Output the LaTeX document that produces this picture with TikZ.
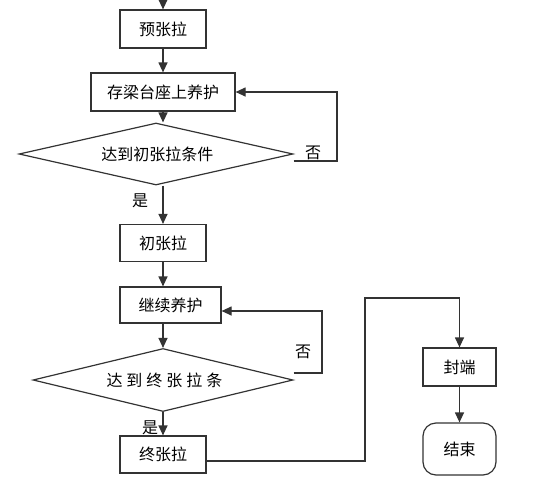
\documentclass[tikz,border=0pt]{standalone}
\usepackage{fontspec}
\newfontfamily\cjk{Noto Sans CJK SC}
\usetikzlibrary{shapes.geometric,arrows.meta,calc}
\begin{document}
\begin{tikzpicture}[x=1pt,y=-1pt,
  every node/.style={font=\cjk\fontsize{16}{18}\selectfont},
  stepbox/.style={draw=black!80,line width=1.2pt,inner sep=0pt,minimum height=38pt},
  cond/.style={draw=black!80,line width=1.2pt,diamond,inner sep=0pt,aspect=4.3},
  lbl/.style={inner sep=0pt},
  conn/.style={draw=black!80,line width=1.2pt},
  arr/.style={conn,-{Triangle[length=10pt,width=9pt]}}]
\useasboundingbox (0,0) rectangle (533,498);
\coordinate (top) at (163,0);
\node[stepbox,minimum width=86pt] (pre) at (163,29) {预张拉\hspace{8pt}};
\node[stepbox,minimum width=144pt] (cun) at (163,92) {存梁台座上养护};
\node[cond,minimum width=274pt,minimum height=62pt] (d1) at (156,154) {\,达到初张拉条件};
\node[stepbox,minimum width=86pt,minimum height=37pt] (chu) at (163,243) {初张拉\hspace{8pt}};
\node[stepbox,minimum width=101pt,minimum height=36pt] (jx) at (170.5,305) {继续养护\hspace{8pt}};
\node[cond,minimum width=260pt,minimum height=63pt] (d2) at (163,380) {\hspace{3pt}达\hspace{4pt}到\hspace{4pt}终\hspace{4pt}张\hspace{4pt}拉\hspace{4pt}条};
\node[stepbox,minimum width=86pt,minimum height=37pt] (zhong) at (163,454.5) {终张拉\hspace{8pt}};
\node[stepbox,minimum width=73pt] (fd) at (459.5,367) {封端};
\node[stepbox,minimum width=73pt,minimum height=52pt,rounded corners=13pt] (end) at (459.5,449) {结束};
\node[lbl] (no1) at (313,153) {否};
\node[lbl] (yes1) at (140,201) {是};
\node[lbl] (no2) at (303,352) {否};
\node[lbl] (yes2) at (150,428) {是};
\draw[arr] (top) -- (pre);
\draw[arr] (pre) -- (cun);
\draw[arr] (cun.south) -- (cun.south |- d1.north);
\draw[arr] (d1.south -| cun.south) -- (chu);
\draw[arr] (chu.south) -- (chu.south |- jx.north);
\draw[arr] (chu.south |- jx.south) -- (d2.north);
\draw[arr] (d2) -- (zhong);
\draw[arr] ($(d1.east)+(0,7)$) -- (337,161) -- (337,92) -- (cun.east);
\draw[arr] ($(d2.east)+(0,-7)$) -- (322,373) -- (322,311) -- (jx.east |- 0,311);
\draw[arr] (zhong.east |- 0,461) -- (365,461) -- (365,298) -- (fd.north |- 0,298) -- (fd.north);
\draw[arr] (fd) -- (end);
\end{tikzpicture}
\end{document}
